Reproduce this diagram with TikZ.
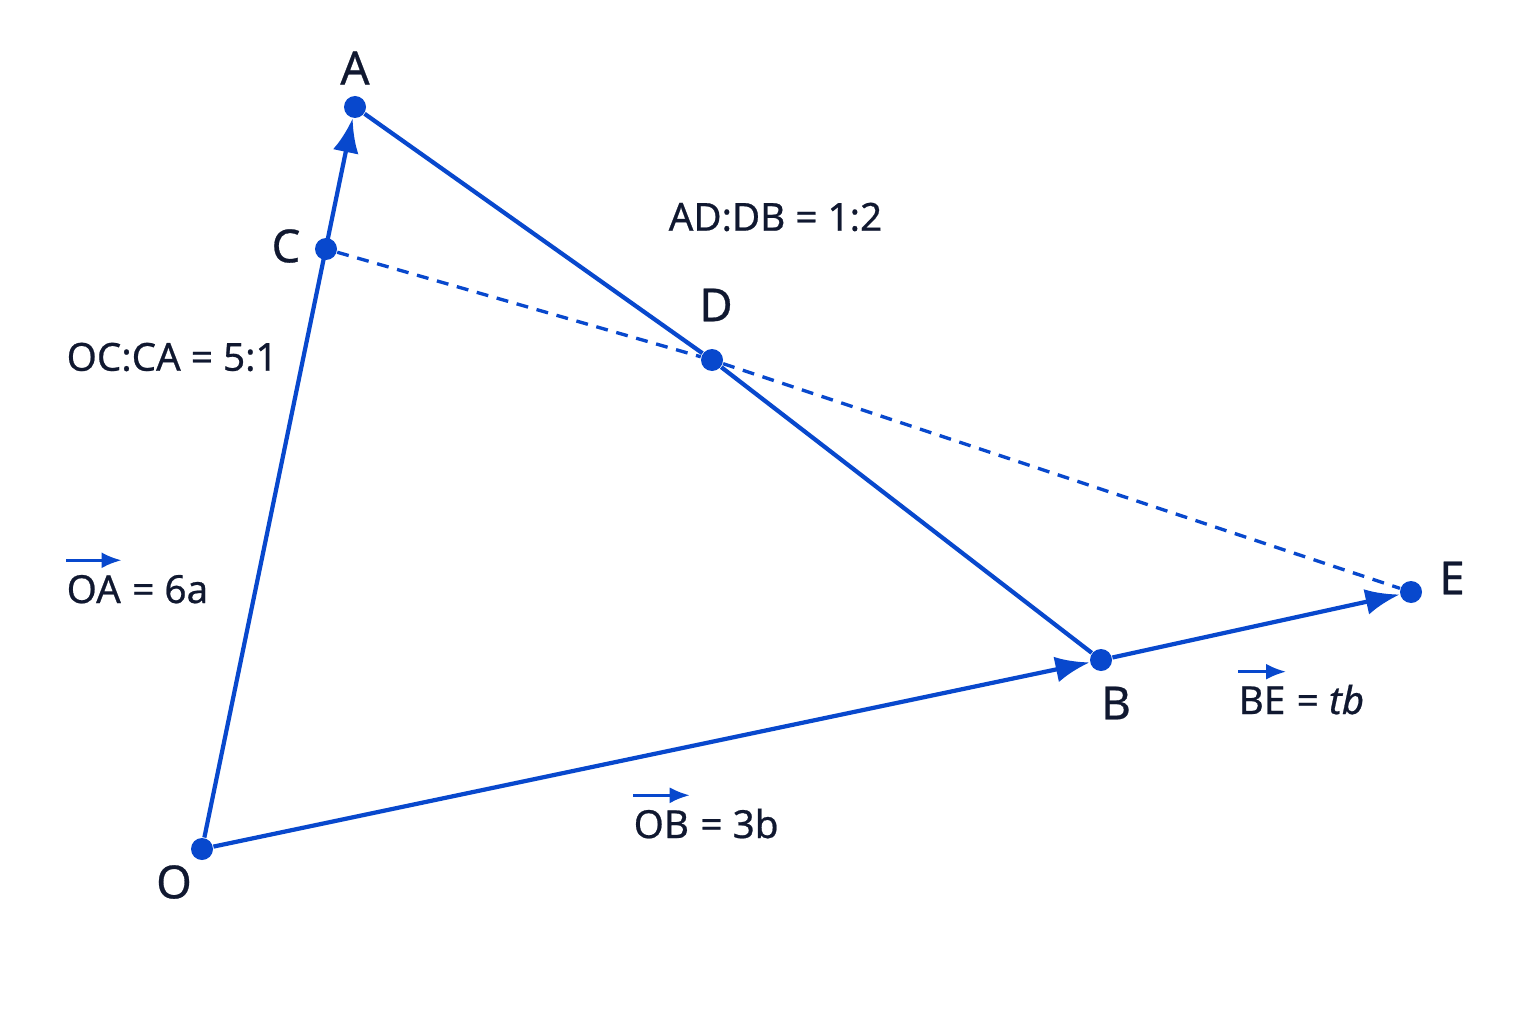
\documentclass[tikz,border=0pt]{standalone}
\usepackage{fontspec}
\setmainfont{Noto Sans}[FakeBold=0.6]
\usetikzlibrary{arrows.meta}

\definecolor{ptblue}{RGB}{8,72,205}
\definecolor{ink}{RGB}{16,24,48}

\begin{document}
\begin{tikzpicture}[
  dot/.style={circle, fill=ptblue, inner sep=0pt, minimum size=2.2mm},
  side/.style={ptblue, line width=1.2pt},
  dashside/.style={ptblue, line width=0.95pt, dash pattern=on 3.4pt off 2.5pt},
  tip/.style={-{Latex[length=3.4mm,width=2.6mm]}},
  ptlbl/.style={text=ink, font=\fontsize{13}{15}\selectfont},
  eqlbl/.style={text=ink, font=\fontsize{11}{13}\selectfont, inner sep=0pt},
  vecarr/.style={ptblue, line width=0.8pt, -{Latex[length=2mm,width=1.6mm]}},
]

\useasboundingbox [fill=white] (0,0) rectangle (15.36,10.24);

% the points
\node [dot] (O) at (2.02,1.75) {};
\node [dot] (A) at (3.55,9.17) {};
\node [dot] (C) at (3.26,7.75) {};
\node [dot] (D) at (7.12,6.64) {};
\node [dot] (B) at (11.01,3.64) {};
\node [dot] (E) at (14.11,4.32) {};

% sides
\draw [side, tip] (O) -- (A);
\draw [side, tip] (O) -- (B);
\draw [side, tip] (B) -- (E);
\draw [side] (A) -- (D) -- (B);
\draw [dashside] (C) -- (D) -- (E);

% point names
\node [ptlbl] (lA) at (3.55,9.56) {A};
\node [ptlbl] (lC) at (2.86,7.78) {C};
\node [ptlbl] (lD) at (7.16,7.19) {D};
\node [ptlbl] (lO) at (1.74,1.42) {O};
\node [ptlbl] (lB) at (11.16,3.21) {B};
\node [ptlbl] (lE) at (14.52,4.46) {E};

% ratios and vectors
\node [eqlbl, anchor=west] (occa) at (0.66,6.67) {OC:CA = 5:1};
\node [eqlbl, anchor=west] (addb) at (6.68,8.07) {AD:DB = 1:2};

\node [eqlbl, anchor=base west] (oa) at (0.66,4.21) {OA};
\node [eqlbl, anchor=base west] (oaeq) at (oa.base east) {\ = 6a};
\draw [vecarr] ([yshift=1.4mm]oa.north west) -- ([yshift=1.4mm]oa.north east);

\node [eqlbl, anchor=base west] (ob) at (6.33,1.86) {OB};
\node [eqlbl, anchor=base west] (obeq) at (ob.base east) {\ = 3b};
\draw [vecarr] ([yshift=1.4mm]ob.north west) -- ([yshift=1.4mm]ob.north east);

\node [eqlbl, anchor=base west] (be) at (12.38,3.10) {BE};
\node [eqlbl, anchor=base west] (beeq) at (be.base east) {\ = \textit{tb}};
\draw [vecarr] ([yshift=1.4mm]be.north west) -- ([yshift=1.4mm]be.north east);

\end{tikzpicture}
\end{document}
